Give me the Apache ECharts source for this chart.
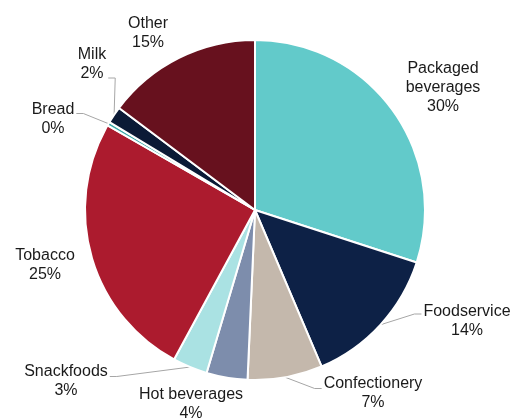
<!DOCTYPE html>
<html>
<head>
<meta charset="utf-8">
<script src="https://cdn.jsdelivr.net/npm/echarts@6/dist/echarts.min.js"></script>
<style>
  html, body { margin: 0; padding: 0; background: #fff; }
  #chart { width: 512px; height: 418px; }
</style>
</head>
<body>
<div id="chart"></div>
<script>
// Share of sales by category (%), clockwise from 12 o'clock
const categories = ['Packaged\nbeverages', 'Foodservice', 'Confectionery', 'Hot beverages', 'Snackfoods', 'Tobacco', 'Bread', 'Milk', 'Other'];
const shares = [30.0, 13.6, 7.1, 3.9, 3.3, 25.4, 0.35, 1.6, 14.75];
const colors = ['#62CACA', '#0D2146', '#C4B8AC', '#7D8DAC', '#AAE2E3', '#AC1B2E', '#3AA8A8', '#0B1A36', '#67111E'];

// Label layout: centre of each text block, and vertical offset of the
// leader line's horizontal run from that centre (null = no leader line)
const labelPos = [[443, 87.5], [467, 321], [373, 393.5], [191, 404], [66, 381.5], [45, 265.5], [53, 119.5], [92, 64], [148, 33]];
const leaderDy = [null, -7, -5, null, -5, null, -6, 14, null];

const chart = echarts.init(document.getElementById('chart'));

const data = categories.map((name, i) => ({
  name: name,
  value: shares[i],
  itemStyle: { color: colors[i] },
  labelLine: { show: leaderDy[i] !== null }
}));

chart.setOption({
  animation: false,
  series: [{
    type: 'pie',
    center: [255, 210],
    radius: [0, 170],
    startAngle: 90,
    clockwise: true,
    avoidLabelOverlap: false,
    itemStyle: { borderColor: '#fff', borderWidth: 2 },
    label: {
      show: true,
      position: 'outside',
      fontFamily: 'Liberation Sans, Arial, sans-serif',
      fontSize: 16,
      lineHeight: 19,
      color: '#1a1a1a',
      align: 'center',
      formatter: p => p.name + '\n' + Math.round(p.value) + '%'
    },
    labelLine: {
      show: true,
      lineStyle: { color: '#A6A6A6', width: 1 }
    },
    labelLayout: function (params) {
      const i = params.dataIndex;
      const [x, y] = labelPos[i];
      const out = { x: x, y: y, align: 'center', verticalAlign: 'middle' };
      if (leaderDy[i] !== null && params.labelLinePoints) {
        const start = params.labelLinePoints[0];
        const w = params.labelRect.width;
        const dir = start[0] > x ? 1 : -1;   // slice right of the label -> attach to right edge
        const edgeX = x + dir * (w / 2 + 2);
        const ly = y + leaderDy[i];
        out.labelLinePoints = [start, [edgeX + dir * 7, ly], [edgeX, ly]];
      }
      return out;
    },
    data: data
  }]
});
</script>
</body>
</html>
